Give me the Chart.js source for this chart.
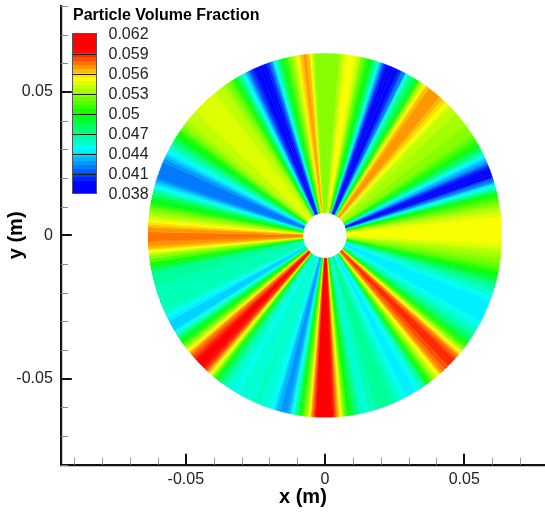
<!DOCTYPE html>
<html><head><meta charset="utf-8">
<style>html,body{margin:0;padding:0;background:#fff}canvas{display:block}</style>
<script src="https://cdn.jsdelivr.net/npm/chart.js@4/dist/chart.umd.min.js"></script>
</head><body><canvas id="c" width="545" height="512"></canvas>
<script>
const angleDeg = [0,5,8,10,12,13,14,15.5,17,18.6,20,22,23,25,26,28,30,34,38,42,45,47,49,51,53,55,57,58,60,62,63,65,68,70,72,74,76,78,79,81,83,85,86,90,93,94,95,96,97,99,101,103,105,106.5,107.5,109,111,114,115.7,117.5,119,121,123,126,130,135,140,143,145,147,149,151,153,155,157,160,162,164,166,168,170,171,173,175,177,180,183,185,186,187.5,189,190.5,192,196,200,204,206,208,211,212.5,214,216,217.5,219,220.5,222,224,226,228,229,230,231,232,233.5,236,239,243,247,250,252.5,254,256,258,259.5,261,262,263.5,265,266,267.3,270,272,273,274,275,276,277,278.5,280,282,285,288,292,295,298,302,304,305.5,307,308.5,310,311.5,314,317,318.5,320,321.5,323,325,328,332,338,341,344,346,348,350,352,354,356,358,360];
const volumeFraction = [.0555,.0553,.054,.0525,.051,.05,.048,.0452,.0425,.04,.039,.04,.042,.044,.0452,.048,.0505,.0527,.0532,.0537,.0543,.0555,.0565,.0572,.0572,.056,.0535,.0505,.048,.046,.0425,.04,.039,.04,.0445,.0485,.0505,.0525,.054,.0555,.055,.0535,.0525,.0525,.0525,.054,.056,.0568,.0568,.055,.0525,.0505,.048,.045,.042,.04,.039,.04,.042,.0455,.048,.0505,.0525,.054,.0545,.0545,.054,.0528,.051,.0495,.0475,.046,.0445,.043,.0418,.0418,.0425,.0445,.047,.049,.0505,.052,.0535,.055,.0565,.0578,.057,.0553,.0535,.052,.0505,.0485,.047,.0465,.0462,.046,.045,.044,.0438,.0455,.048,.05,.0525,.055,.0572,.0585,.06,.0598,.058,.056,.0545,.052,.05,.048,.046,.0452,.0455,.046,.0455,.045,.0435,.0425,.043,.045,.048,.05,.0525,.0555,.058,.06,.062,.0605,.0585,.0565,.055,.0525,.0505,.049,.0475,.0455,.046,.047,.0468,.0455,.0445,.0448,.047,.05,.052,.054,.0555,.0575,.0585,.0585,.0575,.055,.0525,.0505,.048,.046,.0445,.0445,.0455,.047,.049,.0505,.052,.0528,.0535,.0545,.0552,.0555];
const innerRadius = 0.008, outerRadius = 0.0634;
const xTicksMajor = [-0.05, 0, 0.05];
const xTicksMinor = [-0.09,-0.08,-0.07,-0.06,-0.04,-0.03,-0.02,-0.01,0.01,0.02,0.03,0.04,0.06,0.07];
const yTicksMajor = [-0.05, 0, 0.05];
const yTicksMinor = [-0.08,-0.07,-0.06,-0.04,-0.03,-0.02,-0.01,0.01,0.02,0.03,0.04,0.06,0.07,0.08];
const legendLevels = ['0.062','0.059','0.056','0.053','0.05','0.047','0.044','0.041','0.038'];
const legendTitle = 'Particle Volume Fraction';
const FONT = '"Liberation Sans", Arial, sans-serif';

const stops = [[.0395,0,0,255],[.0447,0,255,255],[.050,0,255,0],[.0553,255,255,0],[.0595,255,0,0]];
const bandStep = 0.0006;
function colour(v){
  const q = Math.round(v/bandStep)*bandStep;
  if(q<=stops[0][0]) return 'rgb(0,0,255)';
  for(let i=1;i<stops.length;i++){
    if(q<=stops[i][0]){
      const a=stops[i-1],b=stops[i],t=(q-a[0])/(b[0]-a[0]);
      return `rgb(${[1,2,3].map(k=>Math.round(a[k]+(b[k]-a[k])*t)).join(',')})`;
    }
  }
  return 'rgb(255,0,0)';
}
// Contour flood: walk the read profile and close one filled polygon per colour band
function polar(r,d){const a=d*Math.PI/180;return {x:r*Math.cos(a),y:r*Math.sin(a)};}
const datasets=[];
function pushBand(col,arc){
  const pts=[...arc.map(d=>polar(outerRadius,d)),...arc.slice().reverse().map(d=>polar(innerRadius,d))];
  datasets.push({data:pts,showLine:true,fill:'shape',backgroundColor:col,borderColor:col,borderWidth:0.8,pointRadius:0,tension:0});
}
let curCol=null,curArc=[];
for(let i=0;i<angleDeg.length-1;i++){
  const a0=angleDeg[i],a1=angleDeg[i+1],v0=volumeFraction[i],v1=volumeFraction[i+1];
  const n=Math.max(1,Math.ceil((a1-a0)/0.4));
  for(let j=0;j<n;j++){
    const s0=a0+(a1-a0)*j/n,s1=a0+(a1-a0)*(j+1)/n,vm=v0+(v1-v0)*(j+.5)/n,c=colour(vm);
    if(c!==curCol){ if(curCol) pushBand(curCol,curArc); curCol=c; curArc=[s0]; }
    curArc.push(s1);
  }
}
pushBand(curCol,curArc);

const tickMarks={id:'tickMarks',afterDraw(ch){
  const g=ch.ctx,sx=ch.scales.x,sy=ch.scales.y,area=ch.chartArea;
  g.save();
  const X=(list,len,w,col)=>{g.lineWidth=w;g.strokeStyle=col;list.forEach(v=>{const p=Math.round(sx.getPixelForValue(v))+(w%2?.5:0);g.beginPath();g.moveTo(p,area.bottom);g.lineTo(p,area.bottom-len);g.stroke();});};
  const Y=(list,len,w,col)=>{g.lineWidth=w;g.strokeStyle=col;list.forEach(v=>{const p=Math.round(sy.getPixelForValue(v))+(w%2?.5:0);g.beginPath();g.moveTo(area.left,p);g.lineTo(area.left+len,p);g.stroke();});};
  X(xTicksMajor,11,2,'#111');X(xTicksMinor,7,1,'#999');Y(yTicksMajor,11,2,'#111');Y(yTicksMinor,7,1,'#888');
  // contour legend
  const top=33,bot=194,x0=72,w=25,y062=34,perLevel=20;
  for(let y=top;y<bot;y++){
    const v=.062-(y+.5-y062)/perLevel*.003;
    g.fillStyle=colour(v);g.fillRect(x0,y,w,1);
  }
  g.strokeStyle='#222';g.lineWidth=1;
  legendLevels.forEach((t,i)=>{ if(i>0&&i<8){const y=Math.round(y062+i*perLevel)+.5;g.beginPath();g.moveTo(x0,y);g.lineTo(x0+w,y);g.stroke();}});
  g.strokeStyle='#555';g.strokeRect(x0+.5,top+.5,w-1,bot-top-1);
  g.fillStyle='#222';g.textBaseline='middle';g.textAlign='left';
  g.font='16px '+FONT;
  legendLevels.forEach((t,i)=>g.fillText(t,108.5,35+i*20));
  g.fillStyle='#000';g.font='bold 16px '+FONT;g.fillText(legendTitle,73,15.5);
  g.restore();
}};
const labelFor=v=>Math.abs(v)<1e-9?'0':([-0.05,0.05].some(m=>Math.abs(m-v)<1e-9)?String(v):'');
new Chart(document.getElementById('c'),{
  type:'scatter',
  data:{datasets},
  plugins:[tickMarks],
  options:{
    responsive:false,animation:false,events:[],
    layout:{padding:{left:0,top:6,right:0,bottom:0}},
    plugins:{legend:{display:false},tooltip:{enabled:false},title:{display:false}},
    scales:{
      x:{type:'linear',min:-0.0949,max:0.079,
        afterBuildTicks(s){s.ticks=[...xTicksMajor,...xTicksMinor].sort((a,b)=>a-b).map(value=>({value}));},
        afterFit(s){s.height=47.3;s.paddingLeft=0;s.paddingRight=0;},
        grid:{display:false,drawTicks:false},
        border:{display:true,color:'#111',width:2.2},
        ticks:{autoSkip:false,maxRotation:0,padding:5,color:'#222',font:{family:FONT,size:16},callback:labelFor},
        title:{display:true,text:'x (m)',color:'#000',padding:{top:0,bottom:5},font:{family:FONT,size:20,weight:'bold',lineHeight:1}}},
      y:{type:'linear',min:-0.08,max:0.08,
        afterBuildTicks(s){s.ticks=[...yTicksMajor,...yTicksMinor].sort((a,b)=>a-b).map(value=>({value}));},
        afterFit(s){s.width=60.8;s.paddingTop=0;s.paddingBottom=0;},
        grid:{display:false,drawTicks:false},
        border:{display:true,color:'#111',width:2.2},
        ticks:{autoSkip:false,padding:8,color:'#222',font:{family:FONT,size:16},callback:labelFor},
        title:{display:true,text:'y (m)',color:'#000',padding:{top:6,bottom:0},font:{family:FONT,size:20,weight:'bold',lineHeight:1}}}
    }
  }
});
</script></body></html>
